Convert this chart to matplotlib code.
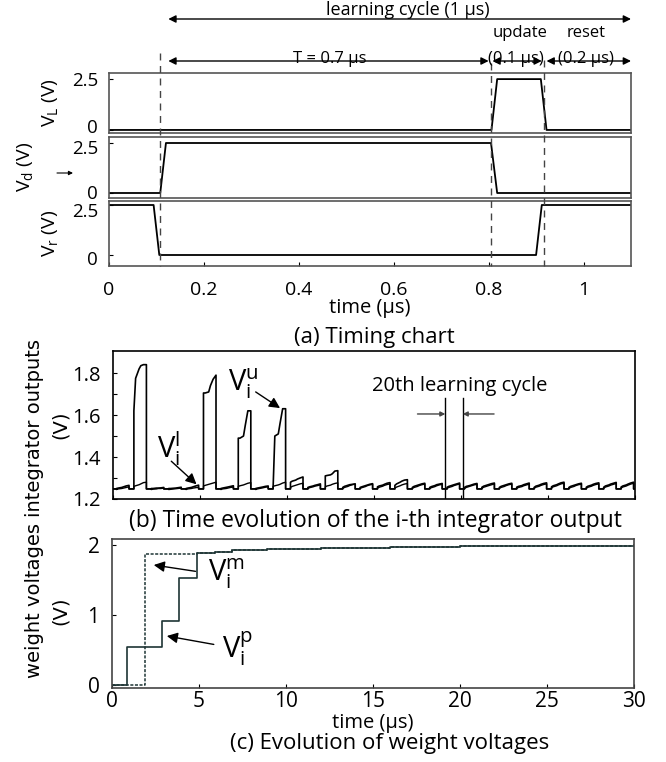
import matplotlib.pyplot as plt
import matplotlib.transforms as mtransforms
from matplotlib.lines import Line2D

W, H = 666, 762

plt.rcParams['font.family'] = ['Open Sans', 'DejaVu Sans']
plt.rcParams['mathtext.fontset'] = 'custom'
plt.rcParams['mathtext.rm'] = 'Open Sans'
plt.rcParams['mathtext.it'] = 'Open Sans:italic'

# ---------------- (a) timing chart, one learning cycle (us / V)
VL_t = [0, 0.806, 0.818, 0.910, 0.922, 1.1]
VL_v = [0, 0, 2.5, 2.5, 0, 0]
Vd_t = [0, 0.108, 0.120, 0.805, 0.818, 1.1]
Vd_v = [0, 0, 2.5, 2.5, 0, 0]
Vr_t = [0, 0.094, 0.106, 0.900, 0.912, 1.1]
Vr_v = [2.5, 2.5, 0, 0, 2.5, 2.5]
phase_edges = [0.108, 0.806, 0.917]
a_xticks = [0, 0.2, 0.4, 0.6, 0.8, 1.0]
a_xticklabels = ['0', '0.2', '0.4', '0.6', '0.8', '1']

# ---------------- (b) integrator outputs, one row per learning cycle
# values read at cycle_tau (fraction of the 1 us cycle), reset level outside
cycle_tau = [0.2, 0.3, 0.5, 0.6, 0.75, 0.92]
reset_level = 1.248
Vu_cycles = [
    [1.250, 1.252, 1.255, 1.258, 1.262, 1.265],
    [1.620, 1.775, 1.820, 1.835, 1.840, 1.840],
    [1.250, 1.250, 1.252, 1.252, 1.253, 1.255],
    [1.250, 1.250, 1.251, 1.252, 1.254, 1.256],
    [1.250, 1.252, 1.255, 1.258, 1.262, 1.266],
    [1.705, 1.705, 1.710, 1.740, 1.770, 1.790],
    [1.250, 1.252, 1.255, 1.257, 1.260, 1.263],
    [1.490, 1.490, 1.500, 1.550, 1.620, 1.620],
    [1.250, 1.252, 1.255, 1.257, 1.260, 1.262],
    [1.250, 1.500, 1.510, 1.560, 1.630, 1.630],
    [1.280, 1.285, 1.290, 1.295, 1.300, 1.305],
    [1.255, 1.258, 1.262, 1.265, 1.268, 1.272],
    [1.310, 1.312, 1.315, 1.320, 1.333, 1.335],
    [1.255, 1.260, 1.265, 1.268, 1.270, 1.272],
    [1.255, 1.258, 1.263, 1.266, 1.270, 1.273],
    [1.258, 1.262, 1.266, 1.270, 1.275, 1.278],
    [1.265, 1.272, 1.280, 1.285, 1.290, 1.292],
    [1.255, 1.260, 1.265, 1.268, 1.272, 1.275],
    [1.255, 1.259, 1.264, 1.268, 1.271, 1.274],
    [1.256, 1.260, 1.265, 1.268, 1.272, 1.276],
    [1.255, 1.260, 1.264, 1.267, 1.271, 1.274],
    [1.256, 1.261, 1.266, 1.269, 1.273, 1.276],
    [1.255, 1.260, 1.265, 1.268, 1.272, 1.275],
    [1.256, 1.260, 1.264, 1.268, 1.272, 1.276],
    [1.255, 1.261, 1.266, 1.270, 1.274, 1.277],
    [1.258, 1.263, 1.268, 1.272, 1.277, 1.280],
    [1.255, 1.260, 1.265, 1.268, 1.272, 1.275],
    [1.256, 1.261, 1.266, 1.270, 1.274, 1.277],
    [1.256, 1.262, 1.267, 1.271, 1.275, 1.279],
    [1.257, 1.262, 1.267, 1.271, 1.276, 1.280],
]
Vl_cycles = [
    [1.245, 1.248, 1.250, 1.252, 1.255, 1.258],
    [1.260, 1.263, 1.268, 1.272, 1.278, 1.280],
    [1.245, 1.247, 1.248, 1.250, 1.250, 1.252],
    [1.245, 1.246, 1.248, 1.249, 1.251, 1.252],
    [1.245, 1.248, 1.250, 1.252, 1.254, 1.256],
    [1.262, 1.265, 1.270, 1.272, 1.276, 1.280],
    [1.245, 1.248, 1.250, 1.252, 1.255, 1.257],
    [1.260, 1.263, 1.267, 1.270, 1.275, 1.278],
    [1.245, 1.248, 1.251, 1.253, 1.256, 1.258],
    [1.260, 1.263, 1.267, 1.270, 1.276, 1.280],
    [1.255, 1.260, 1.265, 1.268, 1.272, 1.275],
    [1.250, 1.254, 1.258, 1.261, 1.264, 1.267],
    [1.258, 1.262, 1.266, 1.270, 1.274, 1.277],
    [1.250, 1.255, 1.260, 1.264, 1.268, 1.271],
    [1.250, 1.254, 1.259, 1.263, 1.267, 1.270],
    [1.252, 1.256, 1.261, 1.265, 1.269, 1.272],
    [1.252, 1.257, 1.263, 1.267, 1.271, 1.274],
    [1.250, 1.255, 1.260, 1.264, 1.268, 1.271],
    [1.250, 1.254, 1.259, 1.263, 1.267, 1.270],
    [1.251, 1.255, 1.260, 1.264, 1.268, 1.272],
    [1.250, 1.255, 1.260, 1.263, 1.267, 1.270],
    [1.251, 1.256, 1.261, 1.264, 1.268, 1.272],
    [1.250, 1.255, 1.260, 1.264, 1.268, 1.271],
    [1.251, 1.255, 1.259, 1.263, 1.267, 1.271],
    [1.250, 1.256, 1.261, 1.265, 1.269, 1.272],
    [1.253, 1.258, 1.263, 1.267, 1.272, 1.275],
    [1.250, 1.255, 1.260, 1.264, 1.268, 1.271],
    [1.251, 1.256, 1.261, 1.265, 1.269, 1.272],
    [1.251, 1.257, 1.262, 1.266, 1.270, 1.274],
    [1.252, 1.257, 1.262, 1.266, 1.271, 1.275],
]
cycle20_edges = [19.1, 20.1]
b_yticks = [1.2, 1.3, 1.4, 1.5, 1.6, 1.7, 1.8]
b_yticklabels = ['1.2', '', '1.4', '', '1.6', '', '1.8']
time_ticks = [0, 5, 10, 15, 20, 25, 30]

# ---------------- (c) weight voltages (step changes, us / V)
Vp_t = [0, 0.85, 2.9, 3.85, 4.9, 5.9, 6.9, 8.9, 12, 16, 20, 25, 30]
Vp_v = [0, 0.54, 0.91, 1.52, 1.88, 1.90, 1.92, 1.94, 1.955, 1.965, 1.975, 1.985, 1.99]
Vm_t = [0, 1.9, 4.9, 5.9, 6.9, 8.9, 12, 16, 20, 25, 30]
Vm_v = [0, 1.86, 1.88, 1.90, 1.92, 1.94, 1.955, 1.965, 1.975, 1.985, 1.99]


def rect(l, t, r, b):
    return [l / W, 1 - b / H, (r - l) / W, (b - t) / H]


def yf(ypx):
    return 1 - ypx / H


def cycle_trace(rows):
    t, v = [], []
    for k, row in enumerate(rows):
        t += [k, k + cycle_tau[0]]
        v += [reset_level, reset_level]
        t += [k + s for s in cycle_tau]
        v += list(row)
        t += [k + cycle_tau[-1], k + 1]
        v += [reset_level, reset_level]
    return t, v


def nudge_ylabels(ax, shifts):
    # shift tick labels up/down by a few pixels (positive = down)
    for lab, dy in zip(ax.get_yticklabels(), shifts):
        off = mtransforms.ScaledTranslation(0, -dy / 100, fig.dpi_scale_trans)
        lab.set_transform(lab.get_transform() + off)


fig = plt.figure(figsize=(W / 100, H / 100), dpi=100)

axL = fig.add_axes(rect(109, 73, 631, 133))
axd = fig.add_axes(rect(109, 137, 631, 198))
axr = fig.add_axes(rect(109, 201, 631, 266))

frame_a = '#555555'
for ax, t, v, lim in [(axL, VL_t, VL_v, (-0.15, 2.8)),
                      (axd, Vd_t, Vd_v, (-0.25, 2.8)),
                      (axr, Vr_t, Vr_v, (-0.55, 2.7))]:
    ax.plot(t, v, color='k', lw=1.3)
    ax.set_xlim(0, 1.1)
    ax.set_ylim(*lim)
    ax.set_yticks([0, 2.5])
    ax.set_yticklabels(['0', '2.5'])
    ax.tick_params(direction='in', length=3, labelsize=13.5, pad=8, width=0.8)
    for s in ax.spines.values():
        s.set_color(frame_a)
        s.set_linewidth(1.2)
    if ax is not axr:
        ax.set_xticks([])

nudge_ylabels(axL, [-4, 0])
nudge_ylabels(axd, [-1, 4])
nudge_ylabels(axr, [3, 5])

axr.set_xticks(a_xticks)
axr.set_xticklabels(a_xticklabels, fontsize=14)
axr.tick_params(axis='x', pad=11)
axr.set_xlabel('time (\u00b5s)', fontsize=14.5, labelpad=-1)

fig.text(50 / W, yf(103), r'$\mathregular{V_L}$ (V)', rotation=90, fontsize=14,
         ha='center', va='center')
fig.text(25 / W, yf(167), r'$\mathregular{V_d}$ (V)', rotation=90, fontsize=14,
         ha='center', va='center')
fig.text(50 / W, yf(233), r'$\mathregular{V_r}$ (V)', rotation=90, fontsize=14,
         ha='center', va='center')
axd.annotate('', xy=(73, H - 173), xytext=(57, H - 173), xycoords='figure pixels',
             arrowprops=dict(arrowstyle='-|>', color='k', lw=0.8, mutation_scale=6,
                             shrinkA=0, shrinkB=0))

# phase boundaries and cycle arrows above the chart
trans = mtransforms.blended_transform_factory(axL.transData, fig.transFigure)
for x, top in zip(phase_edges, [53, 63, 60]):
    fig.add_artist(Line2D([x, x], [yf(top), yf(266)], transform=trans,
                          color='#444444', lw=1, ls=(0, (5, 4))))


def span(x0, x1, ypx):
    axL.annotate('', xy=(x1, yf(ypx)), xytext=(x0, yf(ypx)), xycoords=trans,
                 textcoords=trans, annotation_clip=False,
                 arrowprops=dict(arrowstyle='<|-|>', color='k', lw=1,
                                 mutation_scale=11, shrinkA=0, shrinkB=0))


span(0.125, 1.10, 19)
span(0.125, 0.80, 61)
span(0.808, 0.912, 61)
span(0.922, 1.10, 61)
fig.text(0.63, yf(10), 'learning cycle (1 \u00b5s)', transform=trans, fontsize=13,
         ha='center', va='center')
fig.text(0.466, yf(63), 'T = 0.7 \u00b5s', transform=trans, fontsize=12,
         ha='center', va='baseline')
fig.text(0.866, yf(33), 'update', transform=trans, fontsize=12, ha='center', va='center')
fig.text(0.858, yf(59), '(0.1 \u00b5s)', transform=trans, fontsize=12, ha='center',
         va='center')
fig.text(1.005, yf(33), 'reset', transform=trans, fontsize=12, ha='center', va='center')
fig.text(1.005, yf(59), '(0.2 \u00b5s)', transform=trans, fontsize=12, ha='center',
         va='center')
fig.text(374 / W, yf(337), '(a) Timing chart', fontsize=16, ha='center', va='center')

# ---------------- (b)
axb = fig.add_axes(rect(113, 351, 635, 499))
tu, vu = cycle_trace(Vu_cycles)
tl, vl = cycle_trace(Vl_cycles)
axb.plot(tl, vl, color='k', lw=1.0)
axb.plot(tu, vu, color='k', lw=1.2)
axb.set_xlim(0, 30)
axb.set_ylim(1.2, 1.905)
axb.set_yticks(b_yticks)
axb.set_yticklabels(b_yticklabels)
axb.set_xticks(time_ticks)
axb.set_xticklabels([])
axb.tick_params(direction='in', length=3, labelsize=14.5, pad=9, width=0.8)
for s in axb.spines.values():
    s.set_linewidth(1.2)

for x in cycle20_edges:
    axb.plot([x, x], [1.2, 1.68], color='k', lw=1)
axb.annotate('', xy=(cycle20_edges[0], 1.605), xytext=(17.5, 1.605),
             arrowprops=dict(arrowstyle='-|>', color='#444444', lw=1,
                             mutation_scale=7, shrinkA=0, shrinkB=0))
axb.annotate('', xy=(cycle20_edges[1], 1.605), xytext=(21.9, 1.605),
             arrowprops=dict(arrowstyle='-|>', color='#444444', lw=1,
                             mutation_scale=7, shrinkA=0, shrinkB=0))
axb.text(19.9, 1.74, '20th learning cycle', fontsize=14.5, ha='center', va='center')

big = dict(arrowstyle='-|>', color='k', lw=1, mutation_scale=16, shrinkA=0, shrinkB=0)
axb.annotate('', xy=(9.6, 1.633), xytext=(8.2, 1.71), arrowprops=big)
axb.text(7.5, 1.75, r'$\mathregular{V_i^u}$', fontsize=21, ha='center', va='center')
axb.annotate('', xy=(4.8, 1.27), xytext=(3.35, 1.38), arrowprops=big)
axb.text(3.2, 1.44, r'$\mathregular{V_i^l}$', fontsize=21, ha='center', va='center')

fig.text(35 / W, yf(428), 'integrator outputs', rotation=90, fontsize=14,
         family='DejaVu Sans', ha='center', va='center')
fig.text(60 / W, yf(425), '(V)', rotation=90, fontsize=14,
         family='DejaVu Sans', ha='center', va='center')
fig.text(375 / W, yf(521), '(b) Time evolution of the i-th integrator output',
         fontsize=16.5, ha='center', va='center')

# ---------------- (c)
axc = fig.add_axes(rect(112, 539, 634, 688))
line_c = '#1e3535'
axc.plot(Vm_t, Vm_v, color=line_c, lw=1.1, ls=(0, (2, 1)), drawstyle='steps-post')
axc.plot(Vp_t, Vp_v, color=line_c, lw=1.2, drawstyle='steps-post')
axc.set_xlim(0, 30)
axc.set_ylim(-0.04, 2.08)
axc.set_yticks([0, 1, 2])
axc.set_xticks(time_ticks)
axc.tick_params(direction='in', length=3, labelsize=15, width=0.8)
axc.tick_params(axis='y', pad=9)
axc.tick_params(axis='x', pad=2)
for s in axc.spines.values():
    s.set_color('#444444')
    s.set_linewidth(1.2)
axc.set_xlabel('time (\u00b5s)', fontsize=14.5, labelpad=1)

axc.annotate('', xy=(2.4, 1.71), xytext=(4.8, 1.62), arrowprops=big)
axc.text(6.6, 1.59, r'$\mathregular{V_i^m}$', fontsize=21, ha='center', va='center')
axc.annotate('', xy=(3.15, 0.70), xytext=(5.85, 0.58), arrowprops=big)
axc.text(7.2, 0.52, r'$\mathregular{V_i^p}$', fontsize=21, ha='center', va='center')

fig.text(35 / W, yf(600), 'weight voltages', rotation=90, fontsize=14,
         family='DejaVu Sans', ha='center', va='center')
fig.text(60 / W, yf(611), '(V)', rotation=90, fontsize=14,
         family='DejaVu Sans', ha='center', va='center')
fig.text(390 / W, yf(743), '(c) Evolution of weight voltages', fontsize=16,
         ha='center', va='center')

fig.savefig('out.png', dpi=100)
